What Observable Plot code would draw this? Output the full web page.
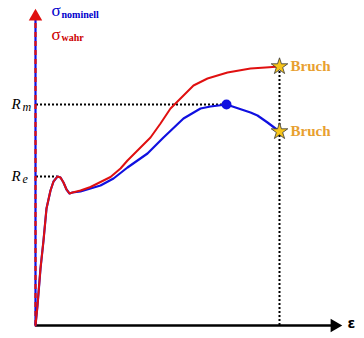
<!DOCTYPE html>
<html><head><meta charset="utf-8">
<script src="https://cdn.jsdelivr.net/npm/d3@7"></script>
<script src="https://cdn.jsdelivr.net/npm/@observablehq/plot@0.6"></script>
<style>body{margin:0;background:#fff}</style>
</head><body><div id="chart"></div>
<script>
// strain ε (arbitrary units) and stresses σ (arbitrary units)
const strainCommon = [0, 2, 5, 8, 11, 15, 18, 22, 25, 28, 31, 34, 37];
const stressCommon = [0, 20, 57, 85, 117, 135, 144, 149, 148, 143, 136, 132, 133];

const strainWahr = [45, 55, 65, 75, 85, 92, 102, 115, 125, 135, 145, 158, 172, 192, 215, 230, 244];
const stressWahr = [135, 138.5, 143.5, 148.5, 157, 165, 175, 188, 202, 217, 227, 240, 247, 253, 257, 258, 259];

const strainNom = [45, 55, 65, 78, 92, 112, 128, 148, 165, 175, 191, 215, 222, 232, 244];
const stressNom = [134, 137, 140, 147, 158, 172, 188, 207, 217, 219, 221, 213, 210, 203, 194];

const Rm = 221, Re = 149;
const strainRm = 191, strainRe = 22;
const strainBruch = 244;
const bruchStress = [259, 194];
const axisMaxX = 299, axisMaxY = 309;

const blue = "#1010E0", red = "#E01010";
const serif = "Liberation Serif, Times New Roman, serif";

const wahr = strainCommon.concat(strainWahr).map((x, i) => ({x, y: stressCommon.concat(stressWahr)[i]}));
const nom = strainCommon.concat(strainNom).map((x, i) => ({x, y: stressCommon.concat(stressNom)[i]}));
const bruch = bruchStress.map(y => ({x: strainBruch, y}));

const chart = Plot.plot({
  width: 364, height: 338, margin: 0,
  x: {domain: [-35, 329], axis: null},
  y: {domain: [-13, 325], axis: null},
  marks: [
    // dotted guide lines
    Plot.ruleY([Rm], {x1: 1, x2: strainRm, stroke: "#000", strokeWidth: 2, strokeDasharray: "2,2"}),
    Plot.ruleY([Re], {x1: 1, x2: strainRe, stroke: "#000", strokeWidth: 2, strokeDasharray: "2,2"}),
    Plot.ruleX([strainBruch], {y1: 0, y2: bruchStress[0], stroke: "#000", strokeWidth: 2, strokeDasharray: "2,2"}),
    // y axis: blue with red dashes
    Plot.ruleX([0], {y1: 0, y2: axisMaxY - 3, stroke: blue, strokeWidth: 2.2}),
    Plot.ruleX([0], {y1: 0, y2: axisMaxY - 3, stroke: red, strokeWidth: 2.2, strokeDasharray: "5,4"}),
    Plot.dot([{x: 0, y: axisMaxY}], {x: "x", y: "y", symbol: "triangle", r: 5, fill: red, stroke: null}),
    // x axis
    Plot.ruleY([0], {x1: 0, x2: axisMaxX - 2, stroke: "#000", strokeWidth: 2.5}),
    Plot.dot([{x: axisMaxX, y: 0}], {x: "x", y: "y", symbol: "triangle", r: 5, rotate: 90, fill: "#000", stroke: null}),
    // curves
    Plot.line(nom, {x: "x", y: "y", stroke: blue, strokeWidth: 2.2}),
    Plot.line(wahr, {x: "x", y: "y", stroke: red, strokeWidth: 2}),
    Plot.dot([{x: strainRm, y: Rm}], {x: "x", y: "y", r: 5, fill: blue, stroke: null}),
    Plot.dot(bruch, {x: "x", y: "y", symbol: "star", r: 5.2, fill: "#F7C51A", stroke: "#333", strokeWidth: 0.8}),
    Plot.text(bruch, {x: "x", y: "y", text: () => "Bruch", dx: 11, textAnchor: "start", fill: "#E8A030", fontWeight: "bold", fontSize: 15, fontFamily: serif}),
    // R labels
    Plot.text([Rm, Re], {x: 0, y: d => d, text: () => "R", dx: -24, dy: 0, textAnchor: "start", fontStyle: "italic", fontSize: 15, fontFamily: serif, fill: "#000"}),
    Plot.text([Rm, Re], {x: 0, y: d => d, text: ["m", "e"], dx: -13, dy: 3, textAnchor: "start", fontStyle: "italic", fontSize: 12, fontFamily: serif, fill: "#000"}),
    // σ labels
    Plot.text([axisMaxY], {x: 0, y: d => d, text: () => "σ", dx: 16, dy: -6, textAnchor: "start", fontSize: 17, fontFamily: serif, fill: "#0000CC"}),
    Plot.text([axisMaxY], {x: 0, y: d => d, text: () => "nominell", dx: 26, dy: -2, textAnchor: "start", fontSize: 10, fontWeight: "bold", fontFamily: serif, fill: "#0000CC"}),
    Plot.text([axisMaxY], {x: 0, y: d => d, text: () => "σ", dx: 16, dy: 18, textAnchor: "start", fontSize: 17, fontFamily: serif, fill: "#CC0000"}),
    Plot.text([axisMaxY], {x: 0, y: d => d, text: () => "wahr", dx: 26, dy: 21, textAnchor: "start", fontSize: 10, fontWeight: "bold", fontFamily: serif, fill: "#CC0000"}),
    // ε label
    Plot.text([0], {x: axisMaxX, y: 0, text: () => "ε", dx: 17, dy: -2, textAnchor: "middle", fontSize: 14, fontWeight: "bold", fontFamily: "DejaVu Sans, sans-serif", fill: "#000"})
  ]
});
document.getElementById("chart").append(chart);
</script>
</body></html>
